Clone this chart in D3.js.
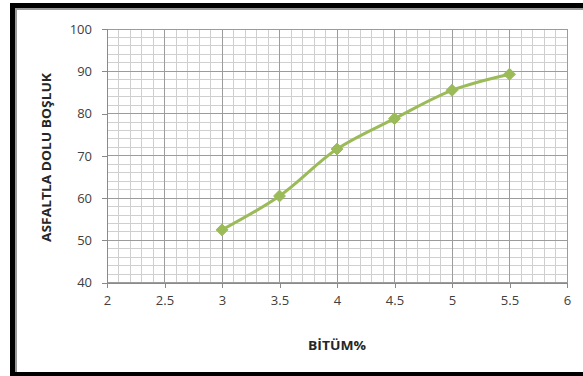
<!DOCTYPE html>
<html><head><meta charset="utf-8">
<script src="https://cdn.jsdelivr.net/npm/d3@7"></script>
<style>html,body{margin:0;padding:0;background:#fff;}svg{display:block;}</style>
</head><body>
<svg id="c" width="583" height="376"></svg>
<script>
const bitumen = [3, 3.5, 4, 4.5, 5, 5.5];
const vfa = [52.5, 60.5, 71.6, 78.8, 85.5, 89.3];
const xTicks = [2, 2.5, 3, 3.5, 4, 4.5, 5, 5.5, 6];
const yTicks = [40, 50, 60, 70, 80, 90, 100];
const xTitle = "BİTÜM%";
const yTitle = "ASFALTLA DOLU BOŞLUK";

const svg = d3.select("#c");
const W = 583, H = 376;
svg.append("rect").attr("width", W).attr("height", H).attr("fill", "#fff");

// frame
svg.append("rect").attr("x", 10).attr("y", 3).attr("width", 5).attr("height", H - 3).attr("fill", "#000");
svg.append("rect").attr("x", 15).attr("y", 8).attr("width", 2).attr("height", H - 12).attr("fill", "#9a9a9a");
svg.append("rect").attr("x", 10).attr("y", 3).attr("width", W - 10).attr("height", 5).attr("fill", "#000");
svg.append("rect").attr("x", 15).attr("y", 8).attr("width", W - 15).attr("height", 2).attr("fill", "#9a9a9a");
svg.append("rect").attr("x", 10).attr("y", 372).attr("width", W - 10).attr("height", 4).attr("fill", "#000");

const L = 107, R = 567, T = 29, B = 282.7;
const x = d3.scaleLinear().domain([2, 6]).range([L, R]);
const y = d3.scaleLinear().domain([40, 100]).range([B, T]);

// minor grid
const g = svg.append("g");
d3.range(20, 61, 1).map(v => v / 10).forEach(v => {
  g.append("line").attr("x1", x(v)).attr("x2", x(v)).attr("y1", T).attr("y2", B)
    .attr("stroke", "#cfcfcf").attr("stroke-width", 1).attr("shape-rendering", "crispEdges");
});
d3.range(40, 101, 2).forEach(v => {
  g.append("line").attr("x1", L).attr("x2", R).attr("y1", y(v)).attr("y2", y(v))
    .attr("stroke", "#cfcfcf").attr("stroke-width", 1).attr("shape-rendering", "crispEdges");
});
// majors on top
xTicks.forEach(v => g.append("line").attr("x1", x(v)).attr("x2", x(v)).attr("y1", T).attr("y2", B)
  .attr("stroke", "#9c9c9c").attr("shape-rendering", "crispEdges"));
yTicks.forEach(v => g.append("line").attr("x1", L).attr("x2", R).attr("y1", y(v)).attr("y2", y(v))
  .attr("stroke", "#9c9c9c").attr("shape-rendering", "crispEdges"));

// axes
const xAxis = d3.axisBottom(x).tickValues(xTicks).tickSize(5).tickPadding(8).tickFormat(d3.format("~g"));
const yAxis = d3.axisLeft(y).tickValues(yTicks).tickSize(5).tickPadding(10).tickFormat(d3.format("~g"));
const xa = svg.append("g").attr("transform", `translate(0,${B})`).call(xAxis);
const ya = svg.append("g").attr("transform", `translate(${L},0)`).call(yAxis);
[xa, ya].forEach(a => {
  a.select(".domain").attr("stroke", "#8a8a8a").attr("shape-rendering", "crispEdges");
  a.selectAll(".tick line").attr("stroke", "#8a8a8a").attr("shape-rendering", "crispEdges");
  a.selectAll(".tick text").attr("fill", "#404040").style("font-family", "'Open Sans', sans-serif").style("font-size", "13px");
});

// line
const data = bitumen.map((b, i) => ({ b, v: vfa[i] }));
const line = d3.line().x(d => x(d.b)).y(d => y(d.v)).curve(d3.curveCatmullRom.alpha(0.5));
svg.append("path").datum(data).attr("d", line).attr("fill", "none")
  .attr("stroke", "#9bbb59").attr("stroke-width", 3).attr("stroke-linejoin", "round");
svg.selectAll(".pt").data(data).enter().append("path")
  .attr("transform", d => `translate(${x(d.b)},${y(d.v)})`)
  .attr("d", d3.symbol().type(d3.symbolDiamond2).size(90))
  .attr("fill", "#9bbb59").attr("stroke", "#9bbb59").attr("stroke-width", 1);

// titles
svg.append("text").attr("x", 337).attr("y", 350).attr("text-anchor", "middle")
  .style("font-family", "'Open Sans', sans-serif").style("font-weight", "bold").style("font-size", "13px")
  .attr("fill", "#262626").attr("textLength", 58).attr("lengthAdjust", "spacingAndGlyphs").text(xTitle);
svg.append("text").attr("transform", "translate(51,157.5) rotate(-90)").attr("text-anchor", "middle")
  .style("font-family", "'Open Sans', sans-serif").style("font-weight", "bold").style("font-size", "12.5px")
  .attr("fill", "#262626").attr("textLength", 169).attr("lengthAdjust", "spacingAndGlyphs").text(yTitle);
</script>
</body></html>
